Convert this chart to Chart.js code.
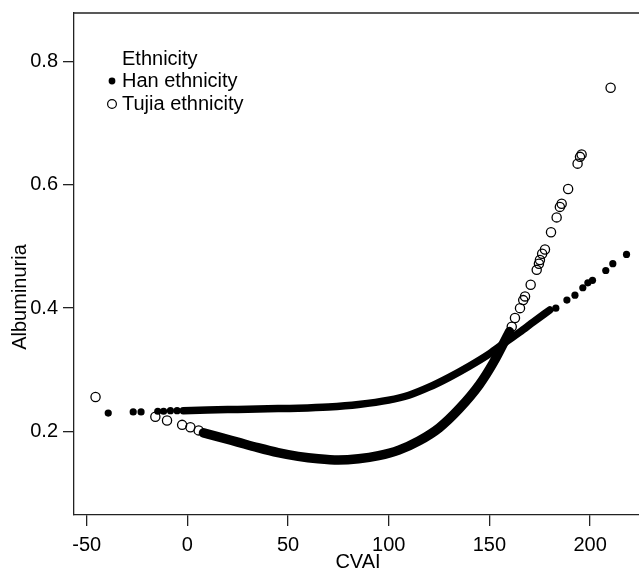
<!DOCTYPE html>
<html>
<head>
<meta charset="utf-8">
<title>Albuminuria by CVAI</title>
<script src="https://cdn.jsdelivr.net/npm/chart.js@4.4.1/dist/chart.umd.min.js"></script>
<style>
    body { margin: 0; background: #fff; }
    #chart { display: block; }
</style>
</head>
<body>
<canvas id="chart" width="639" height="571"></canvas>
<script>
// axis ticks
const xTicks = [-50, 0, 50, 100, 150, 200];
const yTicks = [0.2, 0.4, 0.6, 0.8];

const legendTitle = 'Ethnicity';
const seriesNames = ['Han ethnicity', 'Tujia ethnicity'];

// dense part of each series (observations sit so close they form a band)
const hanBandX = [-2, 10, 25, 40, 55, 70, 85, 100, 110, 120, 130, 140, 150, 158, 165, 172, 180];
const hanBandY = [0.234, 0.235, 0.236, 0.237, 0.238, 0.240, 0.244, 0.251, 0.259, 0.272, 0.288, 0.306, 0.326, 0.345, 0.361, 0.378, 0.397];

const tujiaBandX = [8, 15, 25, 35, 45, 55, 65, 75, 85, 95, 105, 115, 125, 135, 145, 152, 160];
const tujiaBandY = [0.198, 0.192, 0.183, 0.174, 0.166, 0.160, 0.156, 0.154, 0.156, 0.161, 0.170, 0.185, 0.206, 0.237, 0.276, 0.312, 0.362];

// isolated observations
const hanX = [-39.3, -26.9, -23.0, -14.7, -11.8, -8.4, -5.1, 183.0, 188.5, 192.5, 196.4, 198.9, 201.2, 207.8, 211.3, 218.1];
const hanY = [0.230, 0.232, 0.232, 0.233, 0.233, 0.234, 0.234, 0.400, 0.413, 0.421, 0.433, 0.441, 0.445, 0.461, 0.472, 0.487];

const tujiaX = [-45.6, -15.9, -10.1, -2.6, 1.5, 5.6, 161.1, 162.7, 165.2, 166.8, 167.7, 170.5, 173.5, 174.6, 175.1, 176.2, 177.6, 180.6, 183.4, 185.0, 185.9, 189.1, 193.8, 195.0, 195.8, 210.2];
const tujiaY = [0.256, 0.224, 0.218, 0.211, 0.207, 0.202, 0.370, 0.384, 0.400, 0.413, 0.419, 0.438, 0.462, 0.472, 0.478, 0.488, 0.495, 0.523, 0.547, 0.564, 0.569, 0.593, 0.634, 0.645, 0.649, 0.757];

const FONT = '"Liberation Sans", Arial, Helvetica, sans-serif';
const FONT_SIZE = 20;

function toPoints(xs, ys) {
    return xs.map((x, i) => ({ x: x, y: ys[i] }));
}

// top frame line + axis titles + legend inside the plot
const decorations = {
    id: 'decorations',
    afterDraw(chart) {
        const ctx = chart.ctx;
        const area = chart.chartArea;
        ctx.save();
        ctx.strokeStyle = '#222';
        ctx.lineWidth = 1.3;
        ctx.beginPath();
        ctx.moveTo(area.left, area.top);
        ctx.lineTo(area.right, area.top);
        ctx.stroke();

        ctx.fillStyle = '#000';
        ctx.font = FONT_SIZE + 'px ' + FONT;
        ctx.textBaseline = 'middle';

        // axis titles
        ctx.textAlign = 'center';
        ctx.fillText('CVAI', 358, 562);
        ctx.save();
        ctx.translate(20, 297);
        ctx.rotate(-Math.PI / 2);
        ctx.fillText('Albuminuria', 0, 0);
        ctx.restore();

        // legend
        ctx.textAlign = 'left';
        ctx.fillText(legendTitle, 122, 59);
        ctx.fillText(seriesNames[0], 122, 81);
        ctx.fillText(seriesNames[1], 122, 104);

        ctx.beginPath();
        ctx.arc(112, 81, 3.4, 0, Math.PI * 2);
        ctx.fill();
        ctx.beginPath();
        ctx.lineWidth = 1.2;
        ctx.strokeStyle = '#000';
        ctx.arc(112, 104, 4.4, 0, Math.PI * 2);
        ctx.stroke();
        ctx.restore();
    }
};

new Chart(document.getElementById('chart').getContext('2d'), {
    type: 'scatter',
    data: {
        datasets: [
            {
                label: seriesNames[1] + ' band',
                data: toPoints(tujiaBandX, tujiaBandY),
                showLine: true,
                borderColor: '#000',
                borderWidth: 9.5,
                borderCapStyle: 'round',
                cubicInterpolationMode: 'monotone',
                pointRadius: 0
            },
            {
                label: seriesNames[0] + ' band',
                data: toPoints(hanBandX, hanBandY),
                showLine: true,
                borderColor: '#000',
                borderWidth: 7.5,
                borderCapStyle: 'round',
                cubicInterpolationMode: 'monotone',
                pointRadius: 0
            },
            {
                label: seriesNames[1],
                data: toPoints(tujiaX, tujiaY),
                pointRadius: 4.6,
                pointBorderWidth: 1.3,
                borderColor: '#000',
                backgroundColor: 'rgba(0,0,0,0)'
            },
            {
                label: seriesNames[0],
                data: toPoints(hanX, hanY),
                pointRadius: 3.6,
                pointBorderWidth: 0,
                borderColor: '#000',
                backgroundColor: '#000'
            }
        ]
    },
    options: {
        responsive: false,
        animation: false,
        layout: { autoPadding: false, padding: { top: 13, right: 0, left: 0, bottom: 0 } },
        plugins: {
            legend: { display: false },
            tooltip: { enabled: false }
        },
        scales: {
            x: {
                min: -56.3,
                max: 224.3,
                afterBuildTicks: function (scale) {
                    scale.ticks = xTicks.map(v => ({ value: v }));
                },
                afterFit: function (scale) {
                    scale.height = 56;
                    scale.paddingLeft = 0;
                    scale.paddingRight = 0;
                },
                grid: { drawOnChartArea: false, drawTicks: true, tickLength: 11, color: '#222', lineWidth: 1.3 },
                border: { display: true, color: '#222', width: 1.3 },
                ticks: {
                    color: '#000',
                    font: { family: FONT, size: FONT_SIZE },
                    padding: 7,
                    maxRotation: 0
                }
            },
            y: {
                min: 0.065,
                max: 0.878,
                afterBuildTicks: function (scale) {
                    scale.ticks = yTicks.map(v => ({ value: v }));
                },
                afterFit: function (scale) {
                    scale.width = 74;
                    scale.paddingTop = 0;
                    scale.paddingBottom = 0;
                },
                grid: { drawOnChartArea: false, drawTicks: true, tickLength: 11, color: '#222', lineWidth: 1.3 },
                border: { display: true, color: '#222', width: 1.3 },
                ticks: {
                    color: '#000',
                    font: { family: FONT, size: FONT_SIZE },
                    padding: 5,
                    callback: v => v.toFixed(1)
                }
            }
        }
    },
    plugins: [decorations]
});
</script>
</body>
</html>
